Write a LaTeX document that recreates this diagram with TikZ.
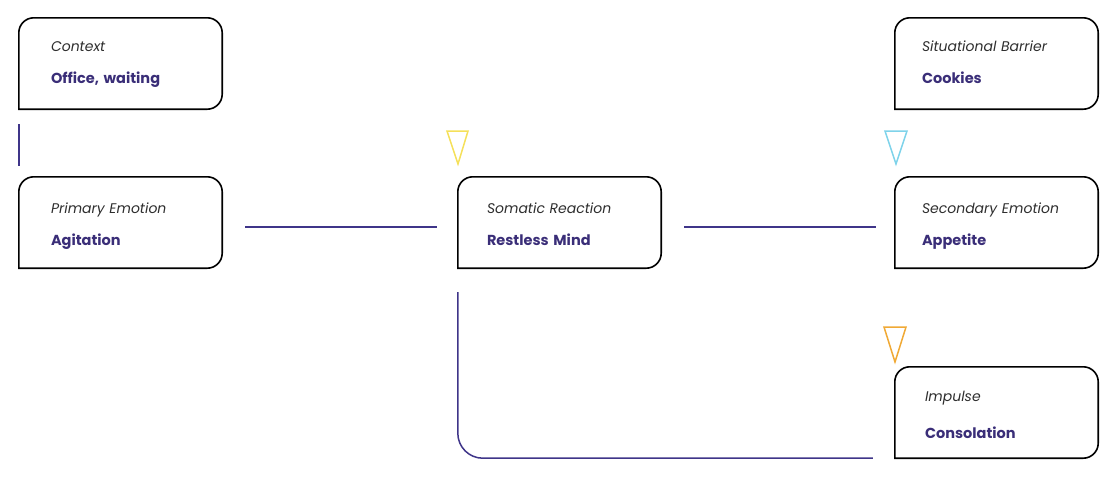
\documentclass[tikz,border=0pt]{standalone}
\usepackage{fontspec}
\setmainfont{Poppins}
\usetikzlibrary{positioning,calc}
\definecolor{ink}{HTML}{3A2E78}
\definecolor{labelc}{HTML}{2E2E2E}
\definecolor{linkc}{HTML}{3F3589}
\definecolor{somamark}{HTML}{F5E05A}
\definecolor{barriermark}{HTML}{7FD3EA}
\definecolor{impulsemark}{HTML}{F0A935}
\tikzset{
  card/.style={rectangle,minimum width=203pt,minimum height=91pt,text width=203pt-2*#1,
    inner xsep=#1,inner ysep=0pt,align=left,text height=10pt,text depth=29pt,
    font=\fontsize{14}{32}\selectfont},
  card/.default=32pt,
  cardline/.style={draw=black,line width=1.6pt,rounded corners=15pt,line cap=rect},
  link/.style={draw=linkc,line width=1.5pt},
  tri/.style={line width=1.5pt,line join=miter},
}
\newcommand{\cardtext}[3][0pt]{{\itshape\color{labelc}#2}\\[#1]{\fontsize{14.5}{32}\selectfont\bfseries\color{ink}#3}}
\newcommand{\cardframe}[1]{\draw[cardline] (#1.south west) -- (#1.north west)
  -- (#1.north east) -- (#1.south east) -- (#1.south west);}
\begin{document}
\begin{tikzpicture}[x=1pt,y=-1pt]
  \useasboundingbox (0,0) rectangle (1117,477);
  % left column: context above primary emotion
  \node[card,text depth=35pt] (ctx) at (120.5,63.5) {\cardtext{Context}{Office, waiting}};
  \node[card] (prim) at (120.5,222.5) {\cardtext{Primary Emotion}{Agitation}};
  % middle: somatic reaction
  \node[card=29pt] (soma) at (559.5,222.5) {\cardtext{Somatic Reaction}{Restless Mind}};
  % right column: barrier, secondary emotion, impulse
  \node[card=27pt,text depth=35pt] (barr) at (996.5,63.5) {\cardtext{Situational Barrier}{Cookies}};
  \node[card=27pt] (sec) at (996.5,222.5) {\cardtext{Secondary Emotion}{Appetite}};
  \node[card=30pt,text depth=33pt] (imp) at (996.5,412.5) {\cardtext[5pt]{Impulse}{Consolation}};
  \foreach \c in {ctx,prim,soma,barr,sec,imp} {\cardframe{\c}}
  % connectors
  \draw[link] ([yshift=-15pt]ctx.south west) -- ([yshift=11pt]prim.north west);
  \draw[link,shorten <=23pt,shorten >=21pt] ([yshift=-4.5pt]prim.east) -- ([yshift=-4.5pt]soma.west);
  \draw[link,shorten <=23pt,shorten >=19pt] ([yshift=-4.5pt]soma.east) -- ([yshift=-4.5pt]sec.west);
  \draw[link,rounded corners=25pt] ([yshift=-24pt]soma.south west) |- ([xshift=-22pt]imp.south west);
  % triangle markers above the cards
  \draw[tri,draw=somamark] (447,131) -- (468,131) -- (458,164) -- cycle;
  \draw[tri,draw=barriermark] (885,131) -- (907,131) -- (896,164) -- cycle;
  \draw[tri,draw=impulsemark] (884,327) -- (906,327) -- (895,362) -- cycle;
\end{tikzpicture}
\end{document}
